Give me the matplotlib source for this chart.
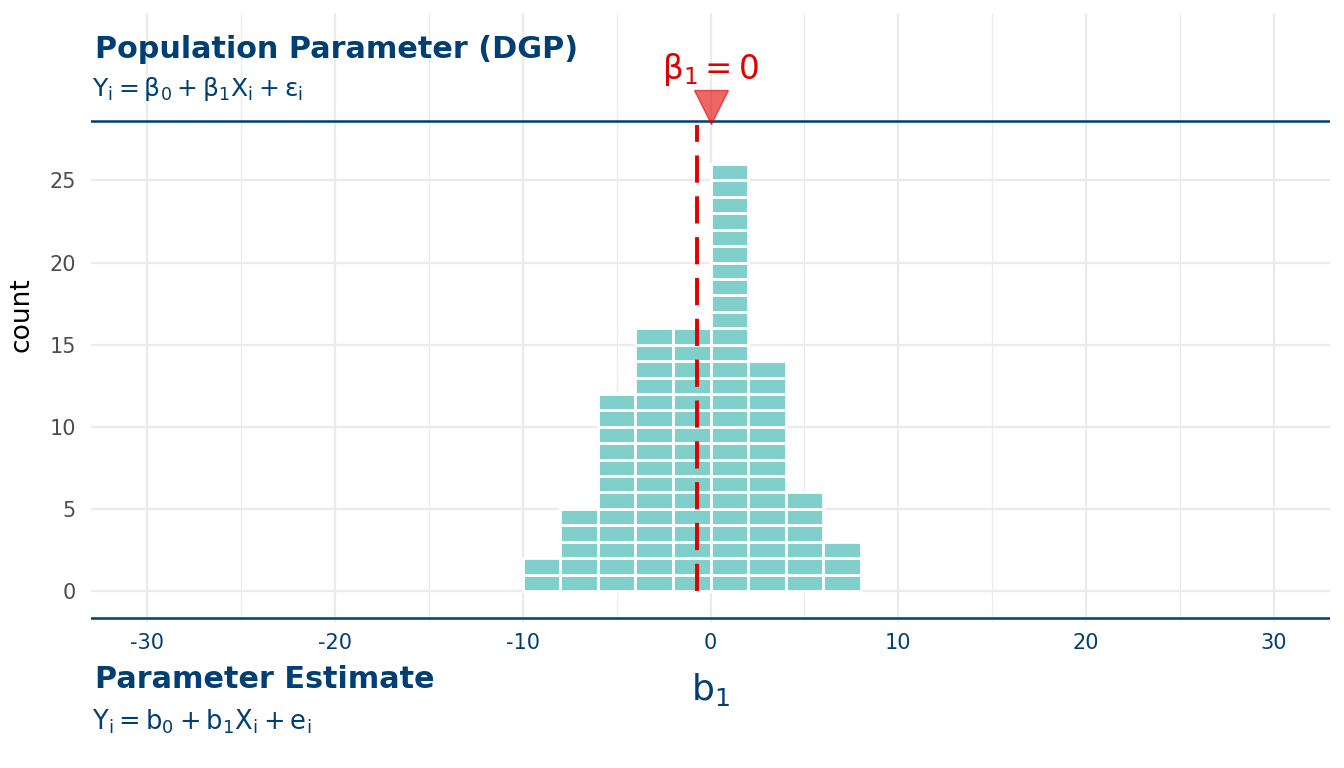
import numpy as np
import matplotlib
matplotlib.use("Agg")
from matplotlib import pyplot as plt
from matplotlib.patches import Rectangle

plt.rcParams['font.family'] = ['DejaVu Sans']
plt.rcParams['mathtext.fontset'] = 'dejavusans'

# histogram of b1 estimates: bins of width 2
bin_left = [-10, -8, -6, -4, -2, 0, 2, 4, 6]
counts = [2, 5, 12, 16, 16, 26, 14, 6, 3]
bin_width = 2
sample_mean = -0.7
beta1 = 0

xticks = [-30, -20, -10, 0, 10, 20, 30]
yticks = [0, 5, 10, 15, 20, 25]

navy = '#003f73'
teal = '#80cfcb'
red = '#e00000'
grid = '#ebebeb'

fig = plt.figure(figsize=(13.44, 7.68), dpi=100)
ax = fig.add_axes([91/1344, 1 - 622/768, (1330-91)/1344, (622-13)/768])
ax.set_xlim(-33, 33)
ax.set_ylim(-1.89, 35.2)

# grid
for x in range(-30, 31, 10):
    ax.axvline(x, color=grid, lw=1.6, zorder=0)
for x in range(-25, 30, 10):
    ax.axvline(x, color=grid, lw=0.9, zorder=0)
for y in yticks:
    ax.axhline(y, color=grid, lw=1.6, zorder=0)

# stacked unit blocks
for left, c in zip(bin_left, counts):
    for k in range(c):
        ax.add_patch(Rectangle((left, k), bin_width, 1, facecolor=teal,
                               edgecolor='white', lw=2.0, zorder=2))

ax.axhline(28.6, color=navy, lw=1.8, zorder=3)
ax.axhline(-1.64, color=navy, lw=1.8, zorder=3)

ax.plot([sample_mean, sample_mean], [0, 28.4], color=red, lw=2.8,
        linestyle=(0, (7, 3.5)), zorder=4)
ax.plot([beta1], [29.45], marker='v', ms=24, color=red, alpha=0.6,
        markeredgecolor=red, zorder=5)
ax.text(beta1, 31.75, r'$\mathrm{\beta_1 = 0}$', color=red, fontsize=23.5,
        ha='center', va='center', zorder=5)

ax.set_xticks(xticks)
ax.set_xticklabels([str(t) for t in xticks])
ax.set_yticks(yticks)
ax.tick_params(length=0)
ax.tick_params(axis='x', colors=navy, labelsize=15, pad=8)
ax.tick_params(axis='y', colors='#4d4d4d', labelsize=15, pad=11)
for s in ax.spines.values():
    s.set_visible(False)
ax.set_ylabel('count', fontsize=19)
ax.set_xlabel(r'$\mathrm{b_1}$', fontsize=26, color=navy)
ax.yaxis.set_label_coords(-0.046, 0.504)
ax.xaxis.set_label_coords(0.5, -0.08)

fig.text(95/1344, 1 - 50/768, 'Population Parameter (DGP)', color=navy,
         fontsize=21.8, fontweight='bold', va='center', ha='left')
fig.text(92/1344, 1 - 89/768, r'$\mathrm{Y_i = \beta_0 + \beta_1 X_i + \varepsilon_i}$',
         color=navy, fontsize=18, va='center', ha='left')
fig.text(95/1344, 1 - 679/768, 'Parameter Estimate', color=navy,
         fontsize=21.8, fontweight='bold', va='center', ha='left')
fig.text(92/1344, 1 - 722/768, r'$\mathrm{Y_i = b_0 + b_1 X_i + e_i}$',
         color=navy, fontsize=18.5, va='center', ha='left')

fig.savefig('out.png', dpi=100)
